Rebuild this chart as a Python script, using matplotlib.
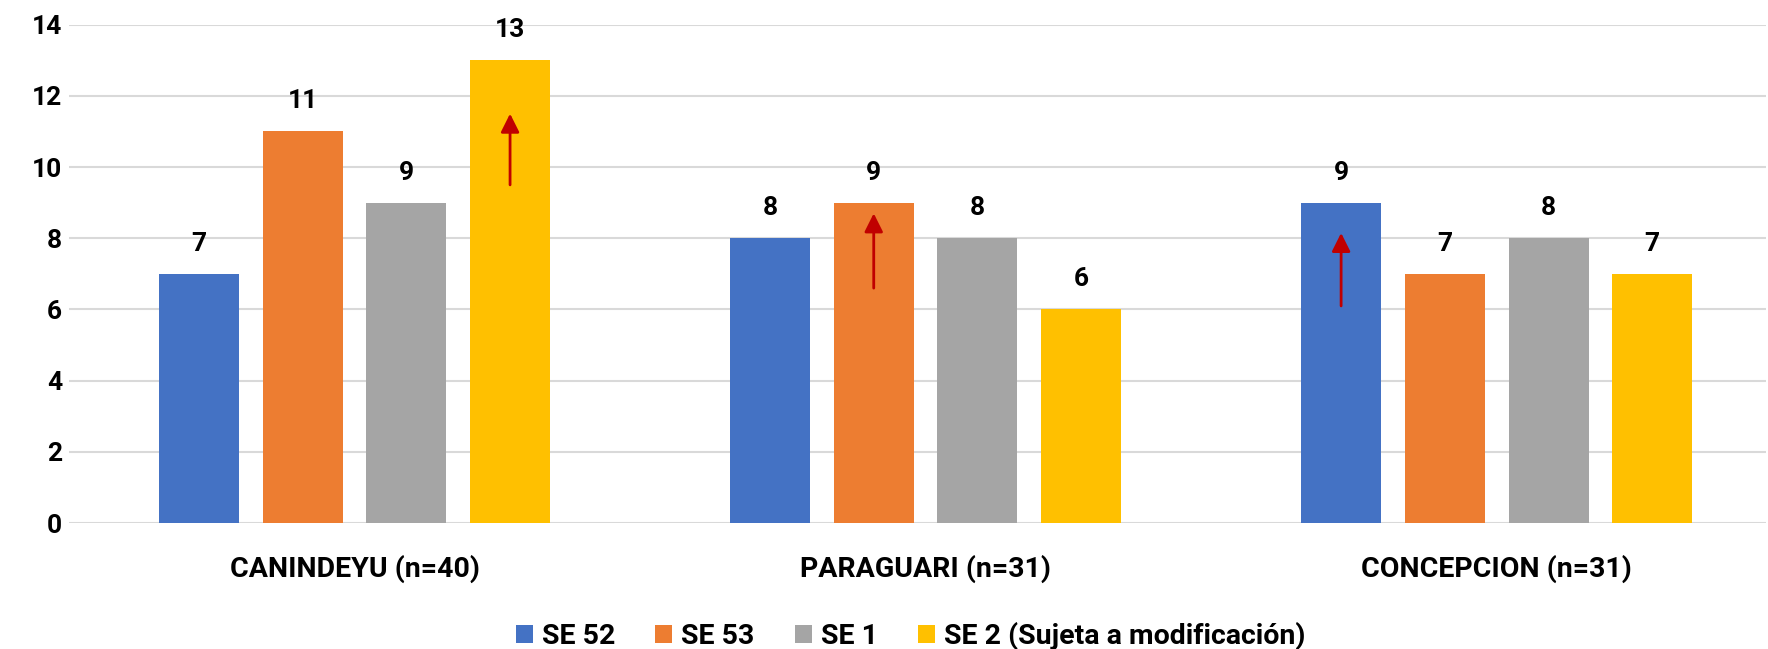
import matplotlib.pyplot as plt
import numpy as np

# Data
categories = ["CANINDEYU (n=40)", "PARAGUARI (n=31)", "CONCEPCION (n=31)"]
series_names = ["SE 52", "SE 53", "SE 1", "SE 2 (Sujeta a modificación)"]
se52 = [7, 8, 9]
se53 = [11, 9, 7]
se1 = [9, 8, 8]
se2 = [13, 6, 7]
colors = ["#4472C4", "#ED7D31", "#A5A5A5", "#FFC000"]

# Red arrows: (category index, series index, tail value, tip value)
arrow_cat = [0, 1, 2]
arrow_series = [3, 1, 0]
arrow_tail = [9.5, 6.6, 6.1]
arrow_tip = [11.5, 8.7, 8.15]

plt.rcParams['font.family'] = ['Roboto', 'DejaVu Sans']
plt.rcParams['font.weight'] = 'bold'
FS = 19

fig = plt.figure(figsize=(17.68, 6.49), dpi=100)
ax = fig.add_axes([0.039, 0.194, 0.96, 0.768])

x = np.arange(len(categories))
pitch = 0.1816
width = 0.14
values = [se52, se53, se1, se2]

for i, (vals, name, col) in enumerate(zip(values, series_names, colors)):
    pos = x + (i - 1.5) * pitch
    ax.bar(pos, vals, width=width, color=col, label=name, zorder=3)
    for px, v in zip(pos, vals):
        ax.annotate(str(v), (px, v), xytext=(0, 13), textcoords='offset points',
                    ha='center', va='bottom', fontsize=FS, fontweight='bold',
                    annotation_clip=False)

# Arrows drawn on top of the bars
for c, s, t0, t1 in zip(arrow_cat, arrow_series, arrow_tail, arrow_tip):
    px = x[c] + (s - 1.5) * pitch
    ax.annotate('', xy=(px, t1), xytext=(px, t0),
                arrowprops=dict(arrowstyle='-|>', color='#C00000', lw=2,
                                mutation_scale=28, shrinkA=0, shrinkB=0),
                zorder=5)

ax.set_ylim(0, 14)
ax.set_xlim(-0.5, 2.472)
ax.set_yticks(range(0, 15, 2))
ax.set_xticks(x)
ax.set_xticklabels(categories, fontsize=20.5, fontweight='bold')
ax.tick_params(axis='y', length=0, pad=5, labelsize=FS)
ax.tick_params(axis='x', length=0, pad=23)
for lbl in ax.get_yticklabels():
    lbl.set_fontweight('bold')

ax.grid(axis='y', color='#D9D9D9', linewidth=1.5, zorder=0)
for sp in ax.spines.values():
    sp.set_visible(False)

fig.legend(loc='center', bbox_to_anchor=(0.515, 0.02), ncol=4, frameon=False,
           fontsize=20.5, handlelength=0.6, handleheight=0.6, handletextpad=0.32,
           columnspacing=1.4)

fig.savefig("out.png", dpi=100)
